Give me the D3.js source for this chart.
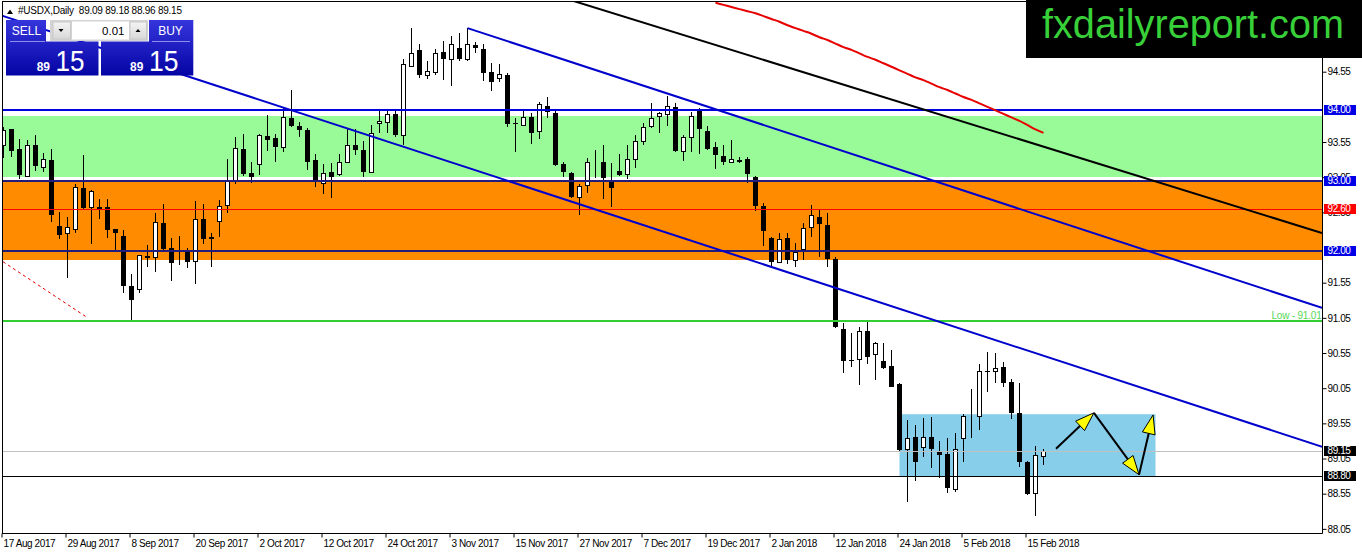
<!DOCTYPE html>
<html><head><meta charset="utf-8">
<script src="https://cdn.jsdelivr.net/npm/d3@7"></script>
<style>
html,body{margin:0;padding:0;background:#fff;overflow:hidden;}
svg{display:block;font-family:"Liberation Sans",Arial,sans-serif;}
</style></head><body>
<svg id="chart" width="1362" height="554"></svg>
<script>
// ---------- DATA ----------
const symbolTitle = "#USDX,Daily  89.09 89.18 88.96 89.15";
const opens = [
93.51,93.73,93.45,93.07,93.51,93.19,93.29,92.36,92.26,92.32,
92.89,92.62,92.61,92.62,92.31,92.21,91.50,91.46,91.92,91.91,
92.40,92.04,92.00,91.99,91.86,92.46,92.18,92.43,92.65,92.99,
93.45,93.11,93.24,93.64,93.61,93.48,93.89,93.78,93.72,93.30,
92.97,93.12,93.09,93.26,93.51,93.44,93.12,93.82,93.84,93.95,
93.65,94.63,94.86,94.50,94.55,94.83,94.73,94.88,94.73,94.93,
94.87,94.55,94.46,94.50,93.82,93.79,93.90,93.71,94.06,93.96,
93.24,93.11,92.77,92.94,93.26,93.26,93.01,93.14,93.09,93.31,
93.56,93.78,93.92,93.95,94.05,93.42,93.62,94.00,93.71,93.48,
93.35,93.27,93.29,93.31,93.05,92.64,92.18,91.84,92.18,91.87,
92.03,92.34,92.49,92.37,91.88,90.89,90.45,90.46,90.86,90.53,
90.43,90.36,90.11,89.18,89.35,89.22,89.35,89.15,89.11,88.62,
89.34,89.65,89.65,90.30,90.29,90.35,90.14,89.70,89.00,88.56,
89.09];
const highs = [
93.76,93.74,93.59,93.58,93.65,93.39,93.45,92.55,92.48,92.96,
93.37,92.87,92.74,92.74,92.32,92.30,91.67,91.95,92.08,92.54,
92.67,92.18,92.21,92.05,92.71,92.67,92.25,92.73,93.31,93.62,
93.67,93.26,93.67,93.93,93.67,94.05,94.29,93.83,93.75,93.38,
93.24,93.25,93.38,93.73,93.73,93.56,93.79,94.02,94.02,94.02,
94.73,95.17,94.94,94.70,94.87,94.99,95.06,95.10,95.17,94.97,
94.95,94.67,94.66,94.53,93.89,94.02,93.96,94.12,94.19,94.00,
93.26,93.12,92.96,93.33,93.44,93.51,93.25,93.38,93.51,93.65,
93.82,94.10,93.98,94.20,94.10,93.65,93.98,94.03,93.78,93.55,
93.51,93.58,93.34,93.34,93.07,92.68,92.20,92.26,92.26,92.11,
92.40,92.65,92.58,92.54,91.91,90.97,90.83,90.92,90.99,90.71,
90.69,90.59,90.12,89.60,89.52,89.63,89.64,89.30,89.34,89.41,
89.68,90.04,90.40,90.56,90.55,90.42,90.18,90.12,89.01,89.23,
89.18];
const lows = [
93.32,93.34,93.02,93.06,93.14,93.12,92.41,92.17,91.62,92.26,
92.60,92.10,92.46,92.18,91.99,91.40,91.01,91.40,91.77,91.70,
92.02,91.57,91.80,91.76,91.53,92.10,91.77,92.20,92.54,92.96,
93.07,92.97,93.08,93.42,93.26,93.41,93.76,93.62,93.15,92.91,
92.81,92.75,93.07,93.25,93.37,93.05,93.11,93.68,93.68,93.62,
93.51,94.62,94.46,94.45,94.50,94.43,94.35,94.70,94.70,94.81,
94.42,94.27,94.40,93.76,93.41,93.78,93.52,93.59,93.89,93.21,
93.05,92.75,92.51,92.82,93.04,92.74,92.63,93.07,93.03,93.18,
93.51,93.75,93.68,93.78,93.41,93.28,93.41,93.38,93.43,93.16,
93.22,93.25,93.25,92.97,92.57,92.07,91.78,91.83,91.81,91.77,
91.87,92.20,91.92,91.78,90.90,90.26,90.35,90.09,90.39,90.17,
90.32,90.06,89.14,88.43,88.73,89.07,88.91,88.78,88.56,88.57,
89.00,89.34,89.45,90.00,90.12,90.06,89.61,88.93,88.53,88.23,
88.96];
const closes = [
93.72,93.42,93.08,93.51,93.21,93.31,92.51,92.23,92.34,92.91,
92.61,92.85,92.63,92.30,92.25,91.50,91.30,91.94,91.93,92.41,
92.03,91.83,92.02,91.84,92.46,92.17,92.20,92.64,92.99,93.46,
93.10,93.05,93.65,93.58,93.48,93.90,93.78,93.72,93.27,92.98,
93.11,93.05,93.26,93.51,93.44,93.12,93.68,93.85,93.95,93.65,
94.66,94.81,94.50,94.56,94.81,94.73,94.94,94.73,94.94,94.88,
94.53,94.40,94.52,93.80,93.81,93.90,93.68,94.09,93.98,93.22,
93.12,92.77,92.92,93.26,93.27,93.04,92.89,93.08,93.31,93.56,
93.76,93.89,93.96,94.06,93.42,93.62,93.92,93.73,93.45,93.36,
93.27,93.31,93.27,93.09,92.64,92.28,91.84,92.17,91.87,91.99,
92.33,92.51,92.38,91.88,90.92,90.43,90.44,90.87,90.50,90.69,
90.33,90.07,89.17,89.34,89.00,89.35,89.18,89.10,88.63,89.18,
89.65,89.66,90.29,90.29,90.33,90.12,89.70,89.00,88.54,89.10,
89.15];
const dateLabels = ["17 Aug 2017","29 Aug 2017","8 Sep 2017","20 Sep 2017","2 Oct 2017","12 Oct 2017","24 Oct 2017","3 Nov 2017","15 Nov 2017","27 Nov 2017","7 Dec 2017","19 Dec 2017","2 Jan 2018","12 Jan 2018","24 Jan 2018","5 Feb 2018","15 Feb 2018"];
const dateLabelStep = 8;
// visible price scale labels (94.05, 92.05, 95.05 are hidden under labels/watermark in the original)
const priceTicks = [88.05,88.55,89.05,89.55,90.05,90.55,91.05,91.55,92.55,93.05,93.55,94.55];
// moving average (red) from bar maStart
const maStart = 89;
const maValues = [95.53,95.50,95.47,95.44,95.41,95.38,95.34,95.30,95.26,95.21,95.17,95.13,95.09,95.04,95.00,94.95,94.90,94.86,94.81,94.76,94.72,94.67,94.62,94.57,94.52,94.47,94.43,94.38,94.33,94.29,94.24,94.19,94.15,94.10,94.05,94.00,93.95,93.90,93.85,93.79,93.73,93.68];
// zones
const zoneTops = [93.92, 92.99];
const zoneBottoms = [93.05, 91.87];
// horizontal levels
const levelValues = [94.00, 93.00, 92.60, 92.00, 91.01, 89.15, 88.80];
const lowLabel = "Low - 91.01";
// trend lines [bar, price] -> [bar, price]
const lowerChannel = [[23.69, 94.46],[164.81, 89.218]];
const upperChannel = [[58, 95.17],[164.81, 91.192]];
const blackTrend = [[72.06, 95.527],[164.81, 92.257]];
const redDashed = [[-0.06, 91.848],[10.56, 91.048]];
// forecast box and arrows
const boxBars = [112, 144];
const boxPrices = [89.68, 88.80];
const arrowPoints = [[131.56, 89.19],[136.3, 89.70],[141.94, 88.82],[143.7, 89.67]];
// trade panel
const lotSize = "0.01";
const bidBig = "89", bidPips = "15", askBig = "89", askPips = "15";
const watermark = "fxdailyreport.com";

// ---------- SCALES ----------
const svg = d3.select("#chart");
const x = d3.scaleLinear().domain([0, 130]).range([3.5, 1043.5]);
const y = d3.scaleLinear().domain([88.05, 94.55]).range([528.85, 71.7]);
const plotL = 3, plotR = 1322, plotT = 2, plotB = 533;

const defs = svg.append("defs");
defs.append("clipPath").attr("id","plotclip").append("rect")
  .attr("x",plotL).attr("y",plotT).attr("width",plotR-plotL).attr("height",plotB-plotT);
const grad = defs.append("linearGradient").attr("id","pgrad")
  .attr("gradientUnits","userSpaceOnUse").attr("x1",0).attr("y1",20).attr("x2",0).attr("y2",76);
grad.append("stop").attr("offset","0").attr("stop-color","#3535dc");
grad.append("stop").attr("offset","1").attr("stop-color","#0404a4");
const grad2 = defs.append("linearGradient").attr("id","bgrad")
  .attr("x1",0).attr("y1",0).attr("x2",0).attr("y2",1);
grad2.append("stop").attr("offset","0").attr("stop-color","#f4f4f4");
grad2.append("stop").attr("offset","1").attr("stop-color","#d8d8d8");

const plot = svg.append("g").attr("clip-path","url(#plotclip)");

// zones
zoneTops.forEach((t,i)=>{
  plot.append("rect").attr("x",plotL).attr("width",plotR-plotL)
    .attr("y",Math.round(y(t))).attr("height",Math.round(y(zoneBottoms[i]))-Math.round(y(t)))
    .attr("fill", i===0 ? "#98fb98" : "#ff8c00");
});
// forecast box
plot.append("rect").attr("x",x(boxBars[0])).attr("width",x(boxBars[1])-x(boxBars[0]))
  .attr("y",y(boxPrices[0])).attr("height",y(boxPrices[1])-y(boxPrices[0]))
  .attr("fill","#87ceeb");

// candles
const bars = d3.range(opens.length);
const cg = plot.append("g");
bars.forEach(i=>{
  const cx = x(i), o = opens[i], c = closes[i];
  cg.append("line").attr("x1",cx).attr("x2",cx)
    .attr("y1",Math.round(y(highs[i]))).attr("y2",Math.round(y(lows[i])))
    .attr("stroke","#000").attr("stroke-width",1);
  const top = Math.round(y(Math.max(o,c))), bot = Math.round(y(Math.min(o,c)));
  if (c >= o) {
    cg.append("rect").attr("x",cx-2).attr("width",4).attr("y",top+0.5).attr("height",Math.max(0,bot-top))
      .attr("fill","#fff").attr("stroke","#000").attr("stroke-width",1);
  } else {
    cg.append("rect").attr("x",cx-2.5).attr("width",5).attr("y",top).attr("height",Math.max(1,bot-top))
      .attr("fill","#000");
  }
});

// horizontal levels
const levelStyles = [
  {c:"#0000e0",w:2},{c:"#221d7c",w:2},{c:"#ff0000",w:1},{c:"#221d7c",w:2},
  {c:"#32cd32",w:2},{c:"#c0c0c0",w:1},{c:"#000000",w:1}];
levelValues.forEach((v,i)=>{
  const yy = levelStyles[i].w===1 ? Math.round(y(v))+0.5 : Math.round(y(v));
  plot.append("line").attr("x1",plotL).attr("x2",plotR).attr("y1",yy).attr("y2",yy)
    .attr("stroke",levelStyles[i].c).attr("stroke-width",levelStyles[i].w);
});
plot.append("text").attr("x",plotR-0.5).attr("y",Math.round(y(91.01))-2)
  .attr("text-anchor","end").attr("font-size",10).attr("fill","#55d855")
  .style("letter-spacing","-0.2px").text(lowLabel);

// trend lines
const line = d3.line().x(d=>x(d[0])).y(d=>y(d[1]));
function extend(seg){ // extend segment across whole plot
  const [a,b] = seg; const s = (b[1]-a[1])/(b[0]-a[0]);
  return [[a[0]-200, a[1]-200*s],[b[0]+40, b[1]+40*s]];
}
plot.append("path").attr("d",line(extend(lowerChannel))).attr("fill","none").attr("stroke","#0000cc").attr("stroke-width",2);
plot.append("path").attr("d",line(upperChannel)).attr("fill","none").attr("stroke","#0000cc").attr("stroke-width",2);
plot.append("path").attr("d",line([[blackTrend[0][0]-5, blackTrend[0][1]+5*(blackTrend[0][1]-blackTrend[1][1])/(blackTrend[1][0]-blackTrend[0][0])], blackTrend[1]])).attr("fill","none").attr("stroke","#000").attr("stroke-width",2);
plot.append("path").attr("d",line(redDashed)).attr("fill","none").attr("stroke","#e00000").attr("stroke-width",1).attr("stroke-dasharray","3,3");
// moving average
plot.append("path").attr("d",d3.line().x((d,i)=>x(maStart+i)).y(d=>y(d)).curve(d3.curveMonotoneX)(maValues))
  .attr("fill","none").attr("stroke","#e60000").attr("stroke-width",2);

// arrows
const ag = plot.append("g");
for (let k=0;k<arrowPoints.length-1;k++){
  const S=[x(arrowPoints[k][0]),y(arrowPoints[k][1])], P=[x(arrowPoints[k+1][0]),y(arrowPoints[k+1][1])];
  const dx=P[0]-S[0], dy=P[1]-S[1], L=Math.hypot(dx,dy), ux=dx/L, uy=dy/L, nx=-uy, ny=ux;
  const hl=19, hw=6.5;
  const B=[P[0]-hl*ux, P[1]-hl*uy];
  ag.append("line").attr("x1",S[0]).attr("y1",S[1]).attr("x2",P[0]-4*ux).attr("y2",P[1]-4*uy)
    .attr("stroke","#000").attr("stroke-width",2);
  ag.append("path").attr("d",`M${P[0]},${P[1]}L${B[0]+hw*nx},${B[1]+hw*ny}L${B[0]-hw*nx},${B[1]-hw*ny}Z`)
    .attr("fill","#ffff00").attr("stroke","#000").attr("stroke-width",1);
}

// ---------- AXES ----------
svg.append("line").attr("x1",2.5).attr("x2",2.5).attr("y1",1.5).attr("y2",533.5).attr("stroke","#000");
svg.append("line").attr("x1",2).attr("x2",plotR+0.5).attr("y1",1.5).attr("y2",1.5).attr("stroke","#000");
svg.append("line").attr("x1",plotR+0.5).attr("x2",plotR+0.5).attr("y1",1.5).attr("y2",533.5).attr("stroke","#000");
svg.append("line").attr("x1",2).attr("x2",plotR+0.5).attr("y1",533.5).attr("y2",533.5).attr("stroke","#000");

const yAxis = d3.axisRight(y).tickValues(priceTicks).tickSize(4).tickPadding(1).tickFormat(d3.format(".2f"));
svg.append("g").attr("transform",`translate(${plotR+0.5},0)`).call(yAxis)
  .call(g=>g.select(".domain").remove())
  .call(g=>g.selectAll("line").attr("stroke","#000"))
  .call(g=>g.selectAll("text").attr("font-size",10).attr("fill","#000").attr("font-family","Liberation Sans, Arial, sans-serif").style("letter-spacing","-0.4px"));

const tickBars = dateLabels.map((d,i)=>i*dateLabelStep);
const xAxis = d3.axisBottom(x).tickValues(tickBars).tickSize(4).tickFormat((d,i)=>dateLabels[i]);
svg.append("g").attr("transform","translate(-2,533.5)").call(xAxis)
  .call(g=>g.select(".domain").remove())
  .call(g=>g.selectAll("line").attr("stroke","#000"))
  .call(g=>g.selectAll("text").attr("text-anchor","start").attr("x",1.5).attr("y",6).attr("dy","0.71em")
    .attr("font-size",10).attr("fill","#000").attr("font-family","Liberation Sans, Arial, sans-serif").style("letter-spacing","-0.4px"));

// price label boxes
const boxColors = ["#0000e6","#0000e6","#ff0000","#0000e6",null,"#000000","#000000"];
levelValues.forEach((v,i)=>{
  if(!boxColors[i]) return;
  const yy = Math.round(y(v));
  svg.append("rect").attr("x",plotR+2).attr("y",yy-5).attr("width",32).attr("height",10).attr("fill",boxColors[i]);
  svg.append("text").attr("x",plotR+5.5).attr("y",yy).attr("dy","0.34em").attr("font-size",10)
    .attr("fill","#fff").style("letter-spacing","-0.4px").text(d3.format(".2f")(v));
});

// ---------- TRADE PANEL ----------
const pnl = svg.append("g");
pnl.append("path").attr("fill","url(#pgrad)")
  .attr("d","M6,20H46V41.5H98.5V75.5H6Z");
pnl.append("path").attr("fill","url(#pgrad)")
  .attr("d","M149,20H193.3V75.5H101V41.5H149Z");
pnl.append("line").attr("x1",10).attr("x2",45).attr("y1",41.5).attr("y2",41.5).attr("stroke","#8f8fe8").attr("stroke-width",1);
pnl.append("line").attr("x1",152).attr("x2",190).attr("y1",41.5).attr("y2",41.5).attr("stroke","#8f8fe8").attr("stroke-width",1);
pnl.append("rect").attr("x",50).attr("y",20).attr("width",98).attr("height",21).attr("fill","#d4d4d4");
pnl.append("rect").attr("x",53).attr("y",22).attr("width",17.5).attr("height",17).attr("fill","url(#bgrad)").attr("stroke","#c8c8c8");
pnl.append("rect").attr("x",130).attr("y",22).attr("width",16.5).attr("height",17).attr("fill","url(#bgrad)").attr("stroke","#c8c8c8");
pnl.append("rect").attr("x",72).attr("y",21.5).attr("width",57).attr("height",18).attr("fill","#fff");
pnl.append("path").attr("d","M58.5,29H63.5L61,32Z").attr("fill","#000");
pnl.append("path").attr("d","M135.5,32H140.5L138,29Z").attr("fill","#000");
pnl.append("text").attr("x",124.5).attr("y",35).attr("text-anchor","end").attr("font-size",11.5).attr("fill","#000").text(lotSize);
pnl.append("text").attr("x",26.5).attr("y",35).attr("text-anchor","middle").attr("font-size",12).attr("fill","#fff").text("SELL");
pnl.append("text").attr("x",170.5).attr("y",35).attr("text-anchor","middle").attr("font-size",12).attr("fill","#fff").text("BUY");
pnl.append("text").attr("x",36.7).attr("y",71).attr("font-size",13).attr("font-weight","bold").attr("fill","#fff")
  .attr("textLength",13.3).attr("lengthAdjust","spacingAndGlyphs").text(bidBig);
pnl.append("text").attr("x",55.5).attr("y",71).attr("font-size",30).attr("fill","#fff")
  .attr("textLength",29).attr("lengthAdjust","spacingAndGlyphs").text(bidPips);
pnl.append("text").attr("x",130).attr("y",71).attr("font-size",13).attr("font-weight","bold").attr("fill","#fff")
  .attr("textLength",13.3).attr("lengthAdjust","spacingAndGlyphs").text(askBig);
pnl.append("text").attr("x",149).attr("y",71).attr("font-size",30).attr("fill","#fff")
  .attr("textLength",29.5).attr("lengthAdjust","spacingAndGlyphs").text(askPips);

// header
svg.append("path").attr("d","M7,14H13L10,9.5Z").attr("fill","#000");
svg.append("text").attr("x",18).attr("y",14).attr("font-size",10).attr("fill","#000")
  .attr("xml:space","preserve").style("white-space","pre")
  .attr("textLength",164).attr("lengthAdjust","spacing").text(symbolTitle);

// watermark
svg.append("rect").attr("x",1026).attr("y",0).attr("width",336).attr("height",58).attr("fill","#000");
svg.append("text").attr("x",1042).attr("y",38).attr("font-size",40).attr("fill","#38d038")
  .attr("textLength",302).attr("lengthAdjust","spacingAndGlyphs").text(watermark);
</script>
</body></html>
